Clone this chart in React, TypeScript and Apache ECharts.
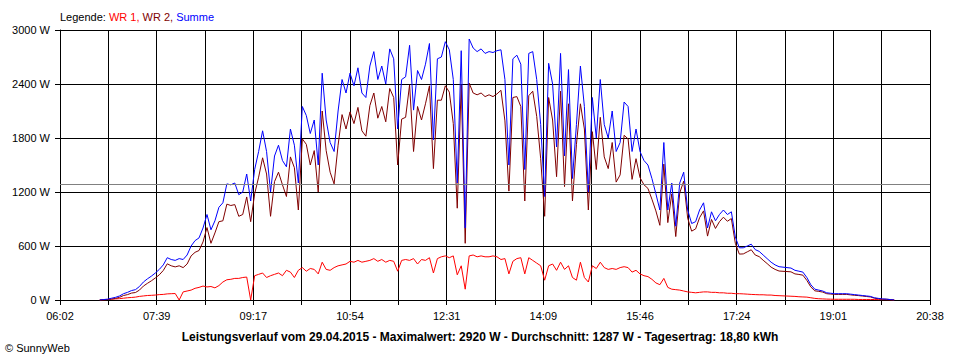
import React, { useEffect, useRef } from "react";
import * as echarts from "echarts";

// x axis: minutes after 06:02 (axis runs 06:02 .. 20:38)
const TIME_LABELS = ["06:02", "07:39", "09:17", "10:54", "12:31", "14:09", "15:46", "17:24", "19:01", "20:38"];
const AXIS_END_MIN = 876;
const START_MIN = 40; // first sample: 40 min after 06:02
const STEP_MIN = 4;

const SUMME = [
  0, 5, 10, 20, 30, 45, 70, 85, 105, 115,
  150, 200, 235, 265, 300, 340, 390, 470, 450, 440,
  460, 450, 500, 600, 660, 690, 800, 950, 780, 880,
  1030, 1080, 1290, 1280, 1300, 1170, 1200, 1400, 1100, 1450,
  1650, 1880, 1650, 1200, 1600, 1720, 1550, 1480, 1900, 1720,
  1300, 2150, 2050, 1850, 2000, 1500, 2520, 2000, 1750, 1650,
  2100, 2450, 2300, 2520, 2380, 2580, 2300, 2250, 2600, 2760,
  2450, 2600, 2400, 2790, 2680, 1900, 2450, 2480, 2830, 2110,
  2550, 2450, 2620, 2850, 1780, 2680, 2700, 2870, 2780, 2450,
  1300, 2770, 800, 2900, 2800, 2760, 2790, 2740, 2760, 2750,
  2770, 2780, 2450, 1500, 2680, 2720, 2620, 1450, 2740, 2760,
  2450, 1950, 1150, 2630, 2400, 1700, 2740, 1600, 2560, 1350,
  1950, 2600, 2150, 1200, 2250, 1800, 2450, 1950, 1800, 2100,
  1650, 1750, 2200, 2150, 1650, 1900, 1650, 1550, 1500, 1350,
  1180, 1000, 1750, 1000, 1300, 820, 1300, 1420, 1000, 850,
  870, 1000, 1080, 800, 980, 880, 950, 1000, 950, 980,
  700, 580, 580, 600, 620, 560, 540, 500, 460, 420,
  390, 370, 365, 360, 355, 330, 320, 310, 250, 170,
  120, 110, 100, 80, 75, 70, 70, 70, 70, 65,
  60, 55, 50, 45, 40, 25, 18, 12, 10, 5,
  0,
];

const WR1 = [
  0, 0, 5, 10, 12, 15, 20, 25, 28, 32,
  40, 45, 50, 52, 55, 60, 62, 68, 70, 72,
  0, 90, 100, 110, 130, 140, 155, 145, 150, 135,
  160, 200, 225, 230, 240, 240, 250, 255, 0, 270,
  285, 300, 250, 270, 285, 300, 270, 330, 310, 250,
  330, 360, 320, 350, 340, 290, 420, 340, 330, 360,
  380, 390, 400, 430, 420, 440, 420, 430, 440, 460,
  430, 450, 420, 440, 430, 320, 440, 450, 440, 460,
  400, 450, 440, 470, 300, 460, 480, 490, 470, 490,
  280, 380, 120, 490, 500, 480, 490, 480, 480, 490,
  480, 450, 460, 290, 430, 460, 470, 290, 470, 440,
  410, 380, 220, 380, 400, 330, 420, 340, 380, 250,
  220, 420, 250, 200, 380, 350, 420, 360, 340, 350,
  340, 360, 370, 360, 310, 330, 290, 270, 260, 230,
  190, 170, 240, 140, 120, 115, 110, 100, 90, 85,
  80, 85, 90, 90, 85, 85, 80, 80, 75, 75,
  70, 70, 68, 65, 62, 60, 58, 58, 55, 55,
  50, 48, 46, 44, 42, 40, 36, 34, 32, 25,
  18, 14, 12, 10, 9, 8, 8, 8, 8, 8,
  8, 6, 6, 6, 6, 5, 4, 3, 2, 0,
  0,
];

const WR2 = [
  0, 5, 5, 10, 18, 30, 50, 60, 77, 83,
  110, 155, 185, 213, 245, 280, 328, 402, 380, 368,
  380, 360, 400, 490, 530, 550, 645, 805, 630, 745,
  870, 880, 1065, 1050, 1060, 930, 950, 1145, 870, 1180,
  1365, 1580, 1400, 930, 1315, 1420, 1280, 1150, 1590, 1470,
  1000, 1790, 1730, 1500, 1660, 1200, 2100, 1660, 1420, 1290,
  1720, 2060, 1900, 2090, 1960, 2140, 1880, 1820, 2160, 2300,
  2020, 2150, 1980, 2350, 2250, 1500, 2010, 2030, 2390, 1650,
  2150, 2000, 2180, 2380, 1460, 2220, 2220, 2380, 2310, 1960,
  1020, 2390, 630, 2410, 2300, 2280, 2300, 2260, 2280, 2260,
  2290, 2330, 1990, 1210, 2250, 2260, 2150, 1100, 2270, 2320,
  2040, 1570, 930, 2250, 2000, 1370, 2320, 1260, 2180, 1100,
  1730, 2180, 1900, 1000, 1870, 1450, 2030, 1590, 1460, 1750,
  1310, 1390, 1830, 1790, 1340, 1570, 1360, 1280, 1240, 1120,
  990, 830, 1510, 860, 1180, 705, 1190, 1320, 910, 765,
  790, 915, 990, 710, 895, 795, 870, 920, 875, 905,
  630, 510, 512, 535, 558, 500, 482, 442, 405, 365,
  340, 322, 319, 316, 313, 290, 284, 276, 218, 145,
  102, 96, 88, 70, 66, 62, 62, 62, 62, 57,
  52, 49, 44, 39, 34, 20, 14, 9, 8, 5,
  0,
];

const AVERAGE_W = 1287;
const Y_MAX = 3000;
const Y_STEP = 600;

const FONT = '"Liberation Sans", Arial, sans-serif';
const TITLE =
  "Leistungsverlauf vom 29.04.2015 - Maximalwert: 2920 W - Durchschnitt: 1287 W - Tagesertrag: 18,80 kWh";

function toPairs(values: number[]) {
  return values.map((v, i) => [(START_MIN + i * STEP_MIN) * 60, v]);
}

export default function App() {
  const ref = useRef<HTMLDivElement>(null);

  useEffect(() => {
    if (!ref.current) return;
    const chart = echarts.init(ref.current, undefined, { renderer: "svg" });
    const xMax = AXIS_END_MIN * 60;
    const xInterval = xMax / 18;
    const lineBase = { type: "line" as const, showSymbol: false, symbol: "none", silent: true };
    chart.setOption({
      animation: false,
      backgroundColor: "#ffffff",
      textStyle: { fontFamily: FONT },
      grid: { left: 60, right: 30, top: 30, bottom: 60, containLabel: false },
      xAxis: {
        type: "value",
        min: 0,
        max: xMax,
        interval: xInterval,
        axisLine: { lineStyle: { color: "#000", width: 1 } },
        axisTick: { show: true, length: 5, lineStyle: { color: "#000" } },
        axisLabel: {
          color: "#000",
          fontSize: 11,
          fontFamily: FONT,
          margin: 10,
          showMinLabel: true,
          showMaxLabel: true,
          formatter: (v: number) => {
            const idx = Math.round(v / xInterval);
            return idx % 2 === 0 ? TIME_LABELS[idx / 2] ?? "" : "";
          },
        },
        splitLine: { show: true, lineStyle: { color: "#000", width: 1 } },
      },
      yAxis: {
        type: "value",
        min: 0,
        max: Y_MAX,
        interval: Y_STEP,
        axisLine: { show: true, lineStyle: { color: "#000", width: 1 } },
        axisTick: { show: true, length: 5, lineStyle: { color: "#000" } },
        axisLabel: {
          color: "#000",
          fontSize: 11,
          fontFamily: FONT,
          margin: 10,
          formatter: (v: number) => `${Math.round(v)} W`,
        },
        splitLine: { show: true, lineStyle: { color: "#000", width: 1 } },
      },
      series: [
        { ...lineBase, name: "WR 1", data: toPairs(WR1), lineStyle: { width: 1, color: "#ff0000" }, itemStyle: { color: "#ff0000" } },
        { ...lineBase, name: "WR 2", data: toPairs(WR2), lineStyle: { width: 1, color: "#800000" }, itemStyle: { color: "#800000" } },
        { ...lineBase, name: "Summe", data: toPairs(SUMME), lineStyle: { width: 1, color: "#0000ff" }, itemStyle: { color: "#0000ff" } },
        {
          type: "line",
          data: [],
          z: 10,
          markLine: {
            silent: true,
            symbol: "none",
            label: { show: false },
            lineStyle: { color: "#808080", width: 1, type: "solid" },
            data: [{ yAxis: AVERAGE_W }],
          },
        },
      ],
      graphic: [
        {
          type: "text",
          left: 60,
          top: 11,
          style: {
            text: "{k|Legende: }{a|WR 1, }{b|WR 2, }{c|Summe}",
            rich: {
              k: { fill: "#000", fontSize: 11, fontFamily: FONT },
              a: { fill: "#ff0000", fontSize: 11, fontFamily: FONT },
              b: { fill: "#800000", fontSize: 11, fontFamily: FONT },
              c: { fill: "#0000ff", fontSize: 11, fontFamily: FONT },
            },
          },
        },
        {
          type: "text",
          x: 480,
          y: 337,
          style: {
            text: TITLE,
            fill: "#000",
            font: `bold 12px ${FONT}`,
            textAlign: "center",
            textVerticalAlign: "middle",
          },
        },
        {
          type: "text",
          x: 5,
          y: 348,
          style: {
            text: "© SunnyWeb",
            fill: "#000",
            font: `11px ${FONT}`,
            textAlign: "left",
            textVerticalAlign: "middle",
          },
        },
      ],
    });
    return () => chart.dispose();
  }, []);

  return (
    <div
      ref={ref}
      style={{ position: "absolute", left: 0, top: 0, width: 960, height: 360, background: "#fff" }}
    />
  );
}
